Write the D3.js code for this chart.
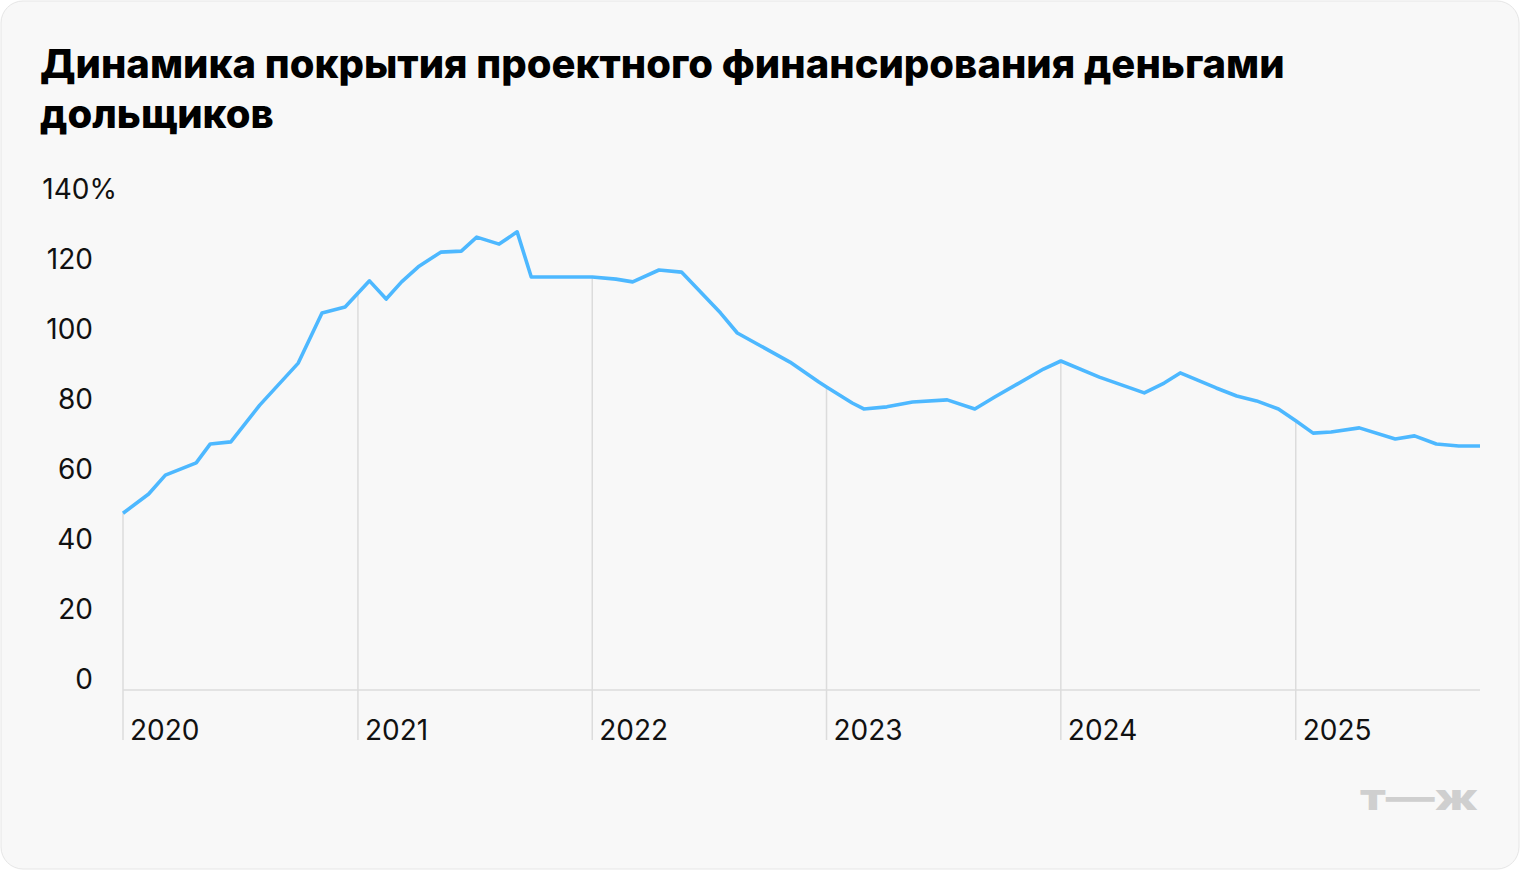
<!DOCTYPE html>
<html>
<head>
<meta charset="utf-8">
<script src="https://cdn.jsdelivr.net/npm/d3@7"></script>
<style>
  body { margin: 0; background: #fff; }
  svg { display: block; font-family: Inter, "Noto Sans", sans-serif; }
</style>
</head>
<body>
<script>
// Data
var dates = ["2020-01-01","2020-02-10","2020-03-07","2020-04-24","2020-05-16","2020-06-17",
  "2020-08-01","2020-09-30","2020-11-06","2020-12-12","2021-01-19","2021-02-14","2021-03-10",
  "2021-04-05","2021-05-10","2021-06-11","2021-07-05","2021-08-09","2021-09-06","2021-09-28",
  "2022-01-01","2022-02-07","2022-03-05","2022-04-15","2022-05-20","2022-07-20","2022-08-15",
  "2022-11-05","2022-12-20","2023-01-01","2023-02-10","2023-02-28","2023-04-05","2023-05-15",
  "2023-07-08","2023-08-20","2023-09-20","2023-12-05","2024-01-01","2024-03-01","2024-05-10",
  "2024-06-10","2024-07-05","2024-08-30","2024-10-01","2024-11-01","2024-12-05","2025-01-01",
  "2025-01-28","2025-02-25","2025-04-10","2025-06-05","2025-07-05","2025-08-08","2025-09-12",
  "2025-10-15"];
var values = [50.5,56,61.4,64.9,70.3,70.9,81.4,93.4,107.7,109.4,116.9,111.7,116.6,120.9,125.1,
  125.4,129.4,127.4,130.9,118,118,117.4,116.6,120,119.4,107.7,102,93.7,88,86.6,82,80.3,80.9,
  82.3,82.9,80.3,83.7,91.7,94,89.4,84.9,87.7,90.6,86.3,84,82.6,80.3,76.9,73.4,73.7,74.9,71.7,
  72.6,70.3,69.7,69.7];
var yTicks = [0, 20, 40, 60, 80, 100, 120, 140];
var years = [2020, 2021, 2022, 2023, 2024, 2025];

var width = 1520, height = 870;
var parse = d3.timeParse("%Y-%m-%d");
var data = dates.map(function(d, i) { return { date: parse(d), value: values[i] }; });

var svg = d3.select("body").append("svg")
  .attr("width", width)
  .attr("height", height);

svg.append("rect")
  .attr("x", 1).attr("y", 1)
  .attr("width", width - 2).attr("height", height - 2)
  .attr("rx", 22)
  .attr("fill", "#f8f8f8")
  .attr("stroke", "#e6e6e6");

// title
var title = svg.append("text")
  .attr("font-size", 40)
  .attr("font-weight", 800)
  .attr("fill", "#000");
title.append("tspan").attr("x", 40).attr("y", 78).text("Динамика покрытия проектного финансирования деньгами");
title.append("tspan").attr("x", 40).attr("y", 128).text("дольщиков");

var x = d3.scaleTime()
  .domain([parse("2020-01-01"), parse("2025-10-15")])
  .range([123, 1480]);
var y = d3.scaleLinear().domain([0, 140]).range([690, 200]);

// y labels
svg.selectAll(".ylab")
  .data(yTicks)
  .enter().append("text")
  .attr("x", function(d) { return d === 140 ? 117 : 93; })
  .attr("y", function(d) { return y(d) - 1; })
  .attr("text-anchor", "end")
  .attr("font-size", 28)
  .attr("fill", "#111")
  .text(function(d) { return d === 140 ? "140%" : d; });

// baseline
svg.append("line")
  .attr("x1", 123).attr("x2", 1480)
  .attr("y1", y(0)).attr("y2", y(0))
  .attr("stroke", "#dcdcdc").attr("stroke-width", 1.5);

// year lines from the curve down to the labels
var bisect = d3.bisector(function(d) { return d.date; }).left;
function valueAt(t) {
  var i = bisect(data, t);
  if (i <= 0) return data[0].value;
  var a = data[i - 1], b = data[i];
  if (!b) return a.value;
  var k = (t - a.date) / (b.date - a.date);
  return a.value + k * (b.value - a.value);
}
years.forEach(function(yr) {
  var t = new Date(yr, 0, 1);
  svg.append("line")
    .attr("x1", x(t)).attr("x2", x(t))
    .attr("y1", y(valueAt(t))).attr("y2", 740)
    .attr("stroke", "#dcdcdc").attr("stroke-width", 1.5);
  svg.append("text")
    .attr("x", x(t) + 7).attr("y", 740)
    .attr("font-size", 28)
    .attr("fill", "#111")
    .text(yr);
});

// line
svg.append("path")
  .datum(data)
  .attr("fill", "none")
  .attr("stroke", "#4db8ff")
  .attr("stroke-width", 3.6)
  .attr("stroke-linejoin", "round")
  .attr("d", d3.line()
    .x(function(d) { return x(d.date); })
    .y(function(d) { return y(d.value); }));

// logo
svg.append("text")
  .attr("x", 1360).attr("y", 810)
  .attr("font-size", 36)
  .attr("font-weight", 800)
  .attr("textLength", 118)
  .attr("lengthAdjust", "spacingAndGlyphs")
  .attr("fill", "#cfcfcf")
  .text("т—ж");
</script>
</body>
</html>
